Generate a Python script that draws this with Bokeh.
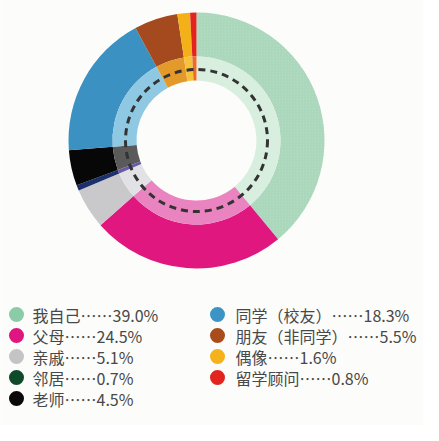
import numpy as np
from bokeh.plotting import figure
from bokeh.models import Range1d, ColumnDataSource
from bokeh.core.properties import value
from bokeh.embed import file_html
from bokeh.resources import INLINE

categories = ["我自己", "父母", "亲戚", "邻居", "老师",
              "同学（校友）", "朋友（非同学）", "偶像", "留学顾问"]
shares = [39.0, 24.5, 5.1, 0.7, 4.5, 18.3, 5.5, 1.6, 0.8]
outer_colors = ["#b3dcc2", "#e0177f", "#c9c9cc", "#1c2f6e", "#070707",
                "#3b92c2", "#a44a1e", "#f4b019", "#e2231e"]
inner_colors = ["#d8eedf", "#ea84c0", "#e2e2e6", "#6a5aa6", "#5a5a5a",
                "#8fc8e2", "#e49a2a", "#f6c23a", "#ee6a2a"]
legend_colors = ["#8ccba8", "#e0157f", "#c4c4c6", "#0f4a2a", "#0a0a0a",
                 "#3b94c4", "#a84c1c", "#f5b21a", "#e2231e"]

W, H = 423, 425
CX, CY = 196, 285
R_IN, R_MID, R_OUT, R_DASH = 60, 84, 128, 71

frac = np.array(shares) / sum(shares)
cum = np.concatenate([[0], np.cumsum(frac)])
start = np.pi / 2 - 2 * np.pi * cum[:-1]
end = np.pi / 2 - 2 * np.pi * cum[1:]

src = ColumnDataSource(dict(start=start, end=end, outer=outer_colors, inner=inner_colors))

p = figure(width=W, height=H, output_backend="svg", toolbar_location=None,
           x_range=Range1d(0, W), y_range=Range1d(0, H), min_border=0)
p.axis.visible = False
p.grid.visible = False
p.outline_line_color = None
p.background_fill_color = "#fcfcfa"
p.border_fill_color = "#fcfcfa"

p.annular_wedge(x=CX, y=CY, inner_radius=R_MID, outer_radius=R_OUT,
                start_angle="start", end_angle="end", direction="clock",
                fill_color="outer", line_color=None, source=src)
# hatch on the first (green) wedge
p.annular_wedge(x=CX, y=CY, inner_radius=R_MID, outer_radius=R_OUT,
                start_angle=start[0], end_angle=end[0], direction="clock",
                fill_alpha=0, line_color=None, hatch_pattern="/",
                hatch_color="#88c4a0", hatch_alpha=0.5, hatch_scale=3, hatch_weight=0.6)
p.annular_wedge(x=CX, y=CY, inner_radius=R_IN, outer_radius=R_MID,
                start_angle="start", end_angle="end", direction="clock",
                fill_color="inner", line_color=None, source=src)
p.circle(x=CX, y=CY, radius=R_DASH, fill_color=None, line_color="#333333",
         line_width=3, line_dash="7 5")

labels = [f"{c}⋯⋯{v:.1f}%" for c, v in zip(categories, shares)]
row_y = [433 - py for py in (322, 343, 364, 385, 406)]

lx = [16] * 5 + [217] * 4
ly = row_y[:5] + row_y[:4]
tx = [32] * 5 + [235] * 4
lsrc = ColumnDataSource(dict(x=lx, y=ly, tx=tx, c=legend_colors, t=labels))
p.scatter(x="x", y="y", size=15, fill_color="c", line_color=None, source=lsrc)
p.text(x="tx", y="y", text="t", text_font=value("Noto Sans CJK SC"),
       text_font_size="16px", text_color="#484848", text_baseline="middle",
       source=lsrc)

open("out.html", "w").write(file_html(p, INLINE))
